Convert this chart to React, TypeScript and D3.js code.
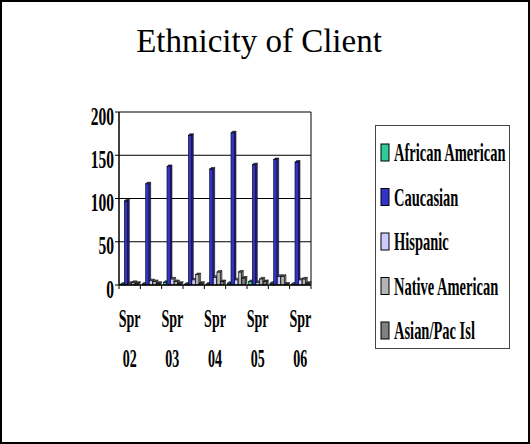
import React from "react";
import * as d3 from "d3";

const categories = ["Spr 02", "Fall 02", "Spr 03", "Fall 03", "Spr 04", "Fall 04", "Spr 05", "Fall 05", "Spr 06"];
const shownLabels = ["Spr 02", "Spr 03", "Spr 04", "Spr 05", "Spr 06"];
const seriesNames = ["African American", "Caucasian", "Hispanic", "Native American", "Asian/Pac Isl"];
const seriesColors = ["#2ECC99", "#3333CC", "#CCCCFF", "#B4B4B4", "#808080"];
const africanAmerican = [1, 1, 3, 1, 1, 2, 4, 2, 1];
const caucasian = [97, 117, 137, 173, 134, 176, 139, 145, 142];
const hispanic = [2, 5, 7, 6, 9, 6, 3, 10, 6];
const nativeAmerican = [3, 4, 4, 12, 15, 15, 7, 10, 7];
const asianPacIsl = [2, 2, 2, 2, 4, 8, 4, 1, 2];
const yTicks = [0, 50, 100, 150, 200];

const seriesValues = [africanAmerican, caucasian, hispanic, nativeAmerican, asianPacIsl];

const W = 530;
const H = 444;
const plot = { left: 119, right: 311, top: 112, bottom: 285 };
const FONT = "'Liberation Serif', 'Times New Roman', serif";

export default function App() {
  const x = d3.scaleBand<string>().domain(categories).range([plot.left, plot.right]).paddingInner(0).paddingOuter(0);
  const inner = d3.scaleBand<number>().domain(d3.range(seriesNames.length)).range([1.5, x.bandwidth() - 1.5]).padding(0.05);
  const y = d3.scaleLinear().domain([0, 200]).range([plot.bottom, plot.top]);
  const depth = 1.6;

  const darker = (c: string, k: number) => d3.color(c)!.darker(k).formatHex();

  return (
    <svg width={W} height={H} style={{ position: "fixed", left: 0, top: 0, background: "#fff" }}>
      <rect x={1} y={1} width={W - 2} height={H - 2} fill="#fff" stroke="#000" strokeWidth={2} />
      <text x={259} y={52} textAnchor="middle" fontFamily={FONT} fontSize={33} fill="#000">
        Ethnicity of Client
      </text>

      {/* gridlines */}
      {yTicks.filter((t) => t > 0).map((t) => (
        <line key={"g" + t} x1={plot.left} x2={plot.right} y1={y(t)} y2={y(t)} stroke="#000" strokeWidth={1} />
      ))}
      <line x1={plot.right} x2={plot.right} y1={plot.top} y2={plot.bottom} stroke="#000" strokeWidth={1} />

      {/* bars */}
      {categories.map((c, ci) =>
        seriesValues.map((vals, si) => {
          const v = vals[ci];
          const bx = (x(c) as number) + (inner(si) as number);
          const bw = inner.bandwidth();
          const top = y(v);
          const col = seriesColors[si];
          return (
            <g key={c + si}>
              <rect x={bx} y={top} width={bw} height={plot.bottom - top} fill={col} stroke="#000" strokeWidth={0.6} />
              <path
                d={`M${bx + bw},${top} l${depth},${-depth} L${bx + bw + depth},${plot.bottom - depth} L${bx + bw},${plot.bottom} Z`}
                fill={darker(col, 1)}
                stroke="#000"
                strokeWidth={0.5}
              />
              <path
                d={`M${bx},${top} l${depth},${-depth} h${bw} l${-depth},${depth} Z`}
                fill={darker(col, 2)}
                stroke="#000"
                strokeWidth={0.5}
              />
            </g>
          );
        })
      )}

      {/* axes */}
      <line x1={plot.left} x2={plot.left} y1={plot.top} y2={plot.bottom} stroke="#000" strokeWidth={1.5} />
      <line x1={plot.left} x2={plot.right} y1={plot.bottom} y2={plot.bottom} stroke="#000" strokeWidth={1.5} />
      {yTicks.map((t) => (
        <g key={"y" + t}>
          <line x1={plot.left - 4} x2={plot.left} y1={y(t)} y2={y(t)} stroke="#000" strokeWidth={1} />
          <text
            transform={`translate(${plot.left - 5},${y(t) + 12.5}) scale(0.62,1)`}
            textAnchor="end"
            fontFamily={FONT}
            fontWeight="bold"
            fontSize={25}
            fill="#000"
          >
            {t}
          </text>
        </g>
      ))}
      {categories.map((c) => (
        <line key={"xt" + c} x1={x(c)} x2={x(c)} y1={plot.bottom} y2={plot.bottom + 4} stroke="#000" strokeWidth={1} />
      ))}
      <line x1={plot.right} x2={plot.right} y1={plot.bottom} y2={plot.bottom + 4} stroke="#000" strokeWidth={1} />
      {shownLabels.map((lab) => {
        const cx = (x(lab) as number) + x.bandwidth() / 2;
        const [a, b] = lab.split(" ");
        return (
          <g key={"xl" + lab}>
            <text transform={`translate(${cx},327) scale(0.56,1)`} textAnchor="middle" fontFamily={FONT} fontWeight="bold" fontSize={25} fill="#000">
              {a}
            </text>
            <text transform={`translate(${cx},367) scale(0.56,1)`} textAnchor="middle" fontFamily={FONT} fontWeight="bold" fontSize={25} fill="#000">
              {b}
            </text>
          </g>
        );
      })}

      {/* legend */}
      <rect x={375.5} y={125.5} width={134} height={223} fill="#fff" stroke="#444" strokeWidth={1} />
      {seriesNames.map((n, i) => {
        const by = 161 + i * 44.5;
        return (
          <g key={"l" + n}>
            <rect x={381} y={by - 17} width={8} height={17} fill={seriesColors[i]} stroke="#000" strokeWidth={1} />
            <text transform={`translate(394,${by}) scale(0.58,1)`} fontFamily={FONT} fontWeight="bold" fontSize={25} fill="#000">
              {n}
            </text>
          </g>
        );
      })}
    </svg>
  );
}
